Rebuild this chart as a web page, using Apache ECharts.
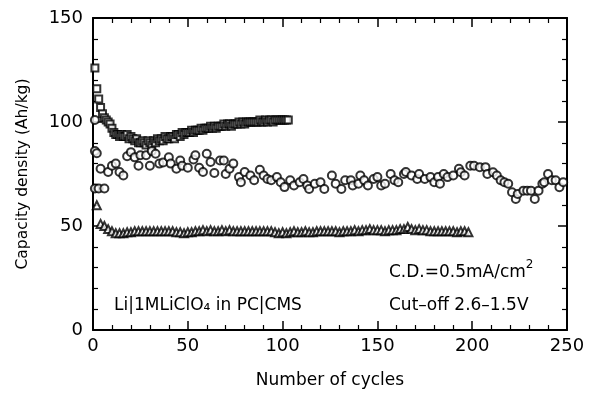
<!DOCTYPE html>
<html>
<head>
<meta charset="utf-8">
<script src="https://cdn.jsdelivr.net/npm/echarts@6/dist/echarts.min.js"></script>
<style>
html,body{margin:0;padding:0;background:#fff;}
#chart{width:597px;height:401px;}
</style>
</head>
<body>
<div id="chart"></div>
<script>
// ---- Data ----
const xTicks = [0, 50, 100, 150, 200, 250];
const yTicks = [0, 50, 100, 150];

const squareCycles = [1,2,3,4,5,6,7,8,9,10,11,12,13,14,15,16,17,18,19,20,21,22,23,24,25,26,27,28,29,30,31,32,33,34,35,36,37,38,39,40,41,42,43,44,45,46,47,48,49,50,51,52,53,54,55,56,57,58,59,60,61,62,63,64,65,66,67,68,69,70,71,72,73,74,75,76,77,78,79,80,81,82,83,84,85,86,87,88,89,90,91,92,93,94,95,96,97,98,99,100,101,102,103];
const squareValues = [126,116,111,107,104,102,101,100,99,97,95,94,94,93,94,93,93,94,92,93,92,91,92,90,90,91,90,89,91,90,89,91,90,92,91,92,91,93,92,92,93,93,92,94,94,93,95,94,95,95,95,96,95,96,96,96,97,96,97,97,97,98,97,98,97,98,98,98,99,98,99,99,98,99,99,99,100,99,100,99,100,100,100,100,100,100,100,101,100,100,101,100,101,101,100,101,101,101,101,101,101,101,101];

const circleCycles = [1,1,2,1,3,6,4,8,10,12,14,16,18,20,22,24,25,28,30,31,33,35,37,40,41,44,46,47,50,53,54,56,58,60,62,64,67,69,70,72,74,77,78,80,83,85,88,90,92,94,97,99,101,104,106,109,111,113,114,117,120,122,126,128,131,133,136,137,140,141,143,145,148,150,152,154,157,159,161,164,165,168,171,172,175,178,180,182,183,185,187,190,193,194,196,199,201,204,207,208,211,213,215,217,219,221,223,224,227,229,231,233,235,237,238,240,242,244,246,248];
const circleValues = [101,86,85,68,68,68,77.5,76,79,80,76,74.3,83.5,85.5,83,79,84,84,79,86,84.7,80,80.5,83,80,77.5,81.5,79,78,82,84,78,76,84.7,80.8,75.5,81.5,81.5,75,77.5,80,73.5,71,76,74.3,72,77,74.3,72.6,72,73.5,71,68.7,72,69.5,71,72.6,69.5,67.8,70.3,71,67.8,74.3,70.3,67.8,72,72,69.5,70.3,74.3,72,69.5,72.6,73.5,69.5,70.3,75,72,71,75,76,74.3,72.6,75,72.6,73.5,71,73.5,70.3,75,73.5,74.3,77.5,75.8,74.3,79,79,78.3,78.3,75,75.8,74.3,72,71,70.3,66.2,63,65.4,67,67,67,63,67,70.3,71,75,72,72,68.6,71];

const triangleCycles = [2,4,6,8,10,12,14,16,18,20,22,24,26,28,30,32,34,36,38,40,42,44,46,48,50,52,54,56,58,60,62,64,66,68,70,72,74,76,78,80,82,84,86,88,90,92,94,96,98,100,102,104,106,108,110,112,114,116,118,120,122,124,126,128,130,132,134,136,138,140,142,144,146,148,150,152,154,156,158,160,162,164,166,168,170,172,174,176,178,180,182,184,186,188,190,192,194,196,198];
const triangleValues = [60,51,50,48.5,47.5,46.5,46.5,46.5,47,47,47.5,47.5,47.5,47.5,47.5,47.5,47.5,47.5,47.5,47.5,47.5,47,47,46.5,47,47,47.5,47.5,48,47.5,48,47.5,47.5,48,47.5,48,47.5,47.5,47.5,47.5,47.5,47.5,47.5,47.5,47.5,47.5,47.5,47,46.5,47,46.5,47,47.5,47,47,47.5,47,47,47.5,47.5,47.5,47.5,47.5,47.5,47,47.5,47.5,47.5,48,47.5,48,48,48.5,48,48,48,47.5,48,48,48,48.5,48.5,49.5,48.5,48,48.5,48,48,47.5,47.5,47.5,47.5,47.5,47.5,47.5,47,47.5,47.5,47];

const xName = 'Number of cycles';
const yName = 'Capacity density (Ah/kg)';

function pairs(xs, ys){ return xs.map((x,i)=>[x, ys[i]]); }

const FONT = '"DejaVu Sans", "Liberation Sans", Arial, sans-serif';
const markerStyle = {color:'#fff', borderColor:'#000', borderWidth:2};

const chart = echarts.init(document.getElementById('chart'), null, {renderer:'canvas'});

const baseAxisLine = {show:true, onZero:false, lineStyle:{color:'#000', width:2}};
const tickStyle = {show:true, inside:true, length:9, lineStyle:{color:'#000', width:1.5}};
const minorStyle = {show:true, splitNumber:5, length:5, lineStyle:{color:'#000', width:1.2}};

chart.setOption({
  animation:false,
  backgroundColor:'#fff',
  grid:{left:93, right:30, top:18, bottom:71, containLabel:false},
  xAxis:[{
    type:'value', min:0, max:250, interval:50, position:'bottom',
    axisLine:baseAxisLine, axisTick:tickStyle, minorTick:minorStyle,
    splitLine:{show:false},
    axisLabel:{color:'#000', fontSize:18, fontFamily:FONT, margin:7,
      formatter:v=>xTicks.includes(v)?String(v):''},
    name:xName, nameLocation:'middle', nameGap:42,
    nameTextStyle:{color:'#000', fontSize:17, fontFamily:FONT}
  },{
    type:'value', min:0, max:250, interval:50, position:'top',
    axisLine:baseAxisLine, axisTick:tickStyle, minorTick:minorStyle,
    splitLine:{show:false}, axisLabel:{show:false}
  }],
  yAxis:[{
    type:'value', min:0, max:150, interval:50, position:'left',
    axisLine:baseAxisLine, axisTick:tickStyle, minorTick:minorStyle,
    splitLine:{show:false},
    axisLabel:{color:'#000', fontSize:18, fontFamily:FONT, margin:10,
      formatter:v=>yTicks.includes(v)?String(v):''},
    name:yName, nameLocation:'middle', nameGap:62, nameRotate:90,
    nameTextStyle:{color:'#000', fontSize:15.5, fontFamily:FONT}
  },{
    type:'value', min:0, max:150, interval:50, position:'right',
    axisLine:baseAxisLine, axisTick:tickStyle, minorTick:minorStyle,
    splitLine:{show:false}, axisLabel:{show:false}
  }],
  series:[
    {type:'scatter', name:'square', symbol:'rect', symbolSize:7,
     itemStyle:markerStyle, data:pairs(squareCycles, squareValues)},
    {type:'scatter', name:'circle', symbol:'circle', symbolSize:8,
     itemStyle:markerStyle, data:pairs(circleCycles, circleValues)},
    {type:'scatter', name:'triangle', symbol:'triangle', symbolSize:8,
     itemStyle:markerStyle, data:pairs(triangleCycles, triangleValues)}
  ],
  graphic:[
    {type:'text', left:389, top:259, style:{
      text:'{n|C.D.=0.5mA/cm}{s|2}', fill:'#000',
      rich:{n:{fontSize:17, fontFamily:FONT, fill:'#000', verticalAlign:'bottom', lineHeight:22},
            s:{fontSize:12, fontFamily:FONT, fill:'#000', verticalAlign:'top', lineHeight:22, padding:[0,0,10,0]}}}},
    {type:'text', left:389, top:297, style:{
      text:'Cut\u2013off 2.6\u20131.5V', fill:'#000', fontSize:17, fontFamily:FONT}},
    {type:'text', left:114, top:297, style:{
      text:'Li|1MLiClO\u2084 in PC|CMS', fill:'#000', fontSize:17, fontFamily:FONT}}
  ]
});
</script>
</body>
</html>
